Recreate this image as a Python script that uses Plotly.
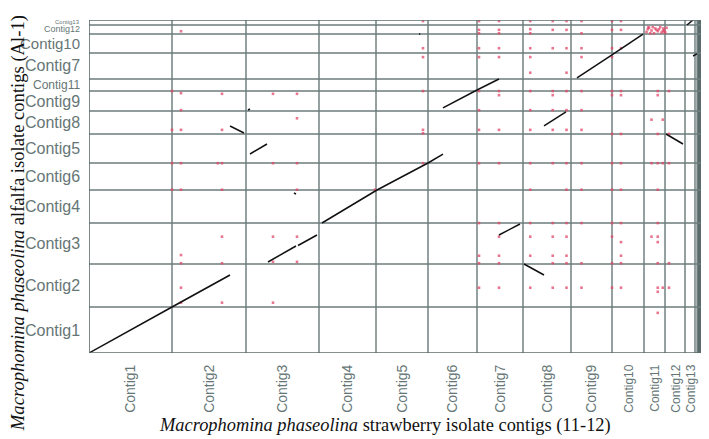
import plotly.graph_objects as go

# ---------------- data ----------------
# strawberry isolate (x) contigs and their lengths (Mb)
x_contigs = ["Contig1", "Contig2", "Contig3", "Contig4", "Contig5", "Contig6", "Contig7",
             "Contig8", "Contig9", "Contig10", "Contig11", "Contig12", "Contig13"]
x_lengths = [6.64, 5.92, 5.84, 4.56, 4.16, 3.92, 3.68, 3.84, 3.28, 2.56, 1.68, 1.60, 0.80]
x_unplaced = 1.12  # small unplaced contigs (dark band at the right)

# alfalfa isolate (y) contigs, bottom to top, and their lengths (Mb)
y_contigs = ["Contig1", "Contig2", "Contig3", "Contig4", "Contig6", "Contig5", "Contig8",
             "Contig9", "Contig11", "Contig7", "Contig10", "Contig12", "Contig13"]
y_lengths = [6.76, 6.32, 6.03, 4.85, 3.97, 4.26, 3.38, 2.94, 1.77, 3.82, 2.79, 1.33, 0.73]

# aligned segments (cumulative genome coordinates, Mb)
seg_x0 = [0.00, 6.64, 14.32, 16.72, 18.64, 23.04, 27.12, 28.32, 31.04, 32.80, 34.80, 36.40,
          39.04, 41.84, 46.16, 47.84, 11.28, 12.88, 12.72, 16.40, 48.32, 26.40]
seg_x1 = [6.64, 11.28, 16.56, 18.24, 23.04, 27.12, 28.32, 31.04, 32.80, 34.48, 36.40, 38.16,
          41.84, 44.32, 47.52, 48.32, 12.40, 14.24, 12.88, 16.56, 48.64, 26.50]
seg_y0 = [0.00, 6.76, 13.38, 15.80, 19.11, 23.96, 27.93, 36.02, 38.66, 17.35, 13.08, 33.37,
          40.43, 43.81, 32.19, 48.22, 33.37, 29.25, 35.72, 23.52, 43.66, 46.90]
seg_y1 = [6.76, 11.47, 15.73, 17.35, 23.96, 27.93, 29.25, 38.66, 40.28, 18.96, 11.47, 35.43,
          43.81, 46.89, 30.72, 48.95, 32.34, 30.72, 35.87, 23.37, 43.96, 46.90]

# scattered short (repeat) hits
red_x = ([7.36, 6.64, 7.36, 10.64, 14.72, 16.64, 16.64, 7.36, 6.64, 7.36, 10.64,
          6.64, 7.36, 10.30, 10.64, 14.72, 16.64, 6.64, 7.36, 10.64, 16.64, 22.88,
          10.64, 14.72, 16.64, 7.36, 7.36, 10.64, 14.72, 16.64, 7.36, 7.36, 10.64, 14.72]
         + [26.72] * 7 + [31.20] * 13 + [32.80] * 14 + [35.30] * 15 + [37.10] * 13
         + [38.20] * 14 + [39.40] * 12 + [41.84] * 13 + [42.56] * 13 + [45.50] * 12
         + [45.00] * 3 + [45.90] * 3 + [46.40] * 5
         + [44.6, 44.8, 45.0, 45.2, 45.3, 45.5, 45.7, 45.8, 46.0, 46.2, 44.7, 45.1, 45.6,
            45.9, 46.1, 44.9, 45.4, 45.95, 44.75, 46.05]
         + [49.10] * 10)
red_y = ([47.3, 38.5, 38.2, 38.1, 38.1, 38.1, 34.5, 35.7, 32.8, 32.8, 32.8,
          27.9, 27.9, 27.9, 27.9, 27.9, 27.9, 24.0, 24.0, 24.0, 24.0, 24.0,
          17.1, 17.1, 17.1, 14.4, 13.2, 13.2, 13.4, 13.4, 9.6, 7.4, 7.4, 7.4]
         + [48.8, 44.8, 43.5, 38.5, 32.8, 32.3, 27.9]
         + [48.8, 47.5, 47.0, 44.8, 43.5, 38.5, 35.7, 32.8, 27.9, 19.1, 14.3, 13.2, 9.6]
         + [48.8, 47.5, 47.0, 44.8, 43.5, 38.5, 37.9, 32.8, 27.9, 19.1, 17.1, 14.3, 13.2, 9.6]
         + [48.8, 47.6, 47.0, 44.8, 43.5, 41.2, 38.5, 35.7, 32.8, 27.9, 24.0, 19.1, 17.1, 14.3, 9.6]
         + [48.8, 47.5, 44.8, 38.5, 37.9, 35.7, 32.8, 27.9, 19.1, 17.1, 14.3, 13.2, 9.6]
         + [48.8, 47.5, 44.8, 41.2, 38.5, 35.7, 32.8, 27.9, 24.0, 19.1, 17.1, 14.3, 13.2, 9.6]
         + [48.8, 47.0, 44.8, 43.5, 38.5, 35.7, 32.8, 27.9, 24.0, 19.1, 13.2, 9.6]
         + [48.8, 47.5, 44.8, 43.5, 38.5, 37.9, 32.2, 27.9, 24.0, 19.1, 17.1, 13.2, 9.6]
         + [48.8, 47.5, 44.8, 38.5, 37.9, 32.2, 27.9, 24.0, 19.1, 16.3, 14.3, 13.2, 9.6]
         + [38.5, 37.9, 32.2, 27.9, 24.0, 19.1, 17.1, 16.3, 13.2, 9.6, 9.0, 5.9]
         + [34.3, 27.9, 17.1]
         + [34.3, 27.9, 9.6]
         + [38.5, 32.2, 27.9, 13.2, 9.6]
         + [47.2, 47.8, 47.4, 47.0, 47.7, 47.3, 47.9, 47.1, 47.5, 47.8, 47.6, 47.9, 47.6,
            47.3, 47.1, 47.0, 47.5, 47.7, 47.9, 47.25]
         + [47.5, 44.8, 38.5, 35.4, 32.2, 27.9, 24.0, 19.1, 13.2, 9.6])

y_label_sizes = {"Contig10": 15, "Contig11": 12, "Contig12": 9, "Contig13": 6}
x_label_sizes = {"Contig10": 12, "Contig11": 12, "Contig12": 12, "Contig13": 12}

# ---------------- derived positions ----------------
def cumulative(lengths):
    out, s = [0.0], 0.0
    for v in lengths:
        s += v
        out.append(s)
    return out

x_bounds = cumulative(x_lengths)
y_bounds = cumulative(y_lengths)
x_total = x_bounds[-1] + x_unplaced
y_total = y_bounds[-1]
x_centers = [(x_bounds[i] + x_bounds[i + 1]) / 2 for i in range(len(x_lengths))]
y_centers = [(y_bounds[i] + y_bounds[i + 1]) / 2 for i in range(len(y_lengths))]

TEXT = "#667676"
VLINE = "#95a1a1"
HLINE = "#6d7b7b"

fig = go.Figure()

lx, ly = [], []
for a, b, c, d in zip(seg_x0, seg_x1, seg_y0, seg_y1):
    lx += [a, b, None]
    ly += [c, d, None]

fig.add_trace(go.Scatter(x=red_x, y=red_y, mode="markers",
                         marker=dict(symbol="square", size=2.6, color="#e24868",
                                     opacity=0.75, line=dict(width=0)),
                         hoverinfo="skip", showlegend=False))
fig.add_trace(go.Scatter(x=lx, y=ly, mode="lines",
                         line=dict(color="#111111", width=1.5),
                         hoverinfo="skip", showlegend=False))

shapes = []
shapes.append(dict(type="rect", xref="x", yref="y", x0=x_bounds[-1], x1=x_total,
                   y0=0, y1=y_total, fillcolor="#5b6b6b", line=dict(width=0), layer="below"))
shapes.append(dict(type="rect", xref="x", yref="y", x0=x_bounds[-1], x1=x_bounds[-1] + 0.18,
                   y0=0, y1=y_total, fillcolor="#a9b3b3", line=dict(width=0), layer="below"))
for xb in x_bounds[1:]:
    shapes.append(dict(type="line", xref="x", yref="y", x0=xb, x1=xb, y0=0, y1=y_total,
                       line=dict(color=VLINE, width=2), layer="below"))
for yb in y_bounds[1:-1]:
    shapes.append(dict(type="line", xref="x", yref="y", x0=0, x1=x_total, y0=yb, y1=yb,
                       line=dict(color=HLINE, width=1.6), layer="below"))
for (a, b, c, d) in [(0, x_total, y_total, y_total), (0, x_total, 0, 0), (0, 0, 0, y_total)]:
    shapes.append(dict(type="line", xref="x", yref="y", x0=a, x1=b, y0=c, y1=d,
                       line=dict(color="#5d6b6b", width=1.6)))

annotations = []
for name, yc in zip(y_contigs, y_centers):
    annotations.append(dict(x=0, xref="paper", y=yc, yref="y", text=name, showarrow=False,
                            xanchor="right", yanchor="middle", xshift=-7,
                            font=dict(family="Liberation Sans, Arial, sans-serif",
                                      size=y_label_sizes.get(name, 16), color=TEXT)))

annotations.append(dict(
    x=0.478, xref="paper", y=0, yref="paper", yshift=-72, showarrow=False,
    xanchor="center", yanchor="middle",
    text="<i>Macrophomina phaseolina</i> strawberry isolate contigs (11-12)",
    font=dict(family="Liberation Serif, DejaVu Serif, serif", size=18.4, color="#111111")))
annotations.append(dict(
    x=0, xref="paper", xshift=-71, y=0.39, yref="paper", showarrow=False, textangle=-90,
    xanchor="center", yanchor="middle",
    text="<i>Macrophomina phaseolina</i> alfalfa isolate contigs (Al-1)",
    font=dict(family="Liberation Serif, DejaVu Serif, serif", size=18.6, color="#111111")))

x_ticktext = [f"<span style='font-size:{x_label_sizes[n]}px'>{n}</span>" if n in x_label_sizes
              else n for n in x_contigs]

# the page adds an 8px body margin, so the figure is 8px smaller and margins shifted by 8px
fig.update_layout(
    width=701, height=431,
    margin=dict(l=81, r=0, t=12, b=86),
    paper_bgcolor="white", plot_bgcolor="white",
    shapes=shapes, annotations=annotations,
    xaxis=dict(range=[0, x_total], showgrid=False, zeroline=False, showline=False,
               tickmode="array", tickvals=x_centers, ticktext=x_ticktext, tickangle=-90,
               ticks="outside", ticklen=5, tickcolor="rgba(0,0,0,0)",
               tickfont=dict(family="Liberation Sans, Arial, sans-serif", size=14, color=TEXT),
               fixedrange=True),
    yaxis=dict(range=[0, y_total], showgrid=False, zeroline=False, showline=False,
               showticklabels=False, ticks="", fixedrange=True),
)

fig.write_html("out.html")
